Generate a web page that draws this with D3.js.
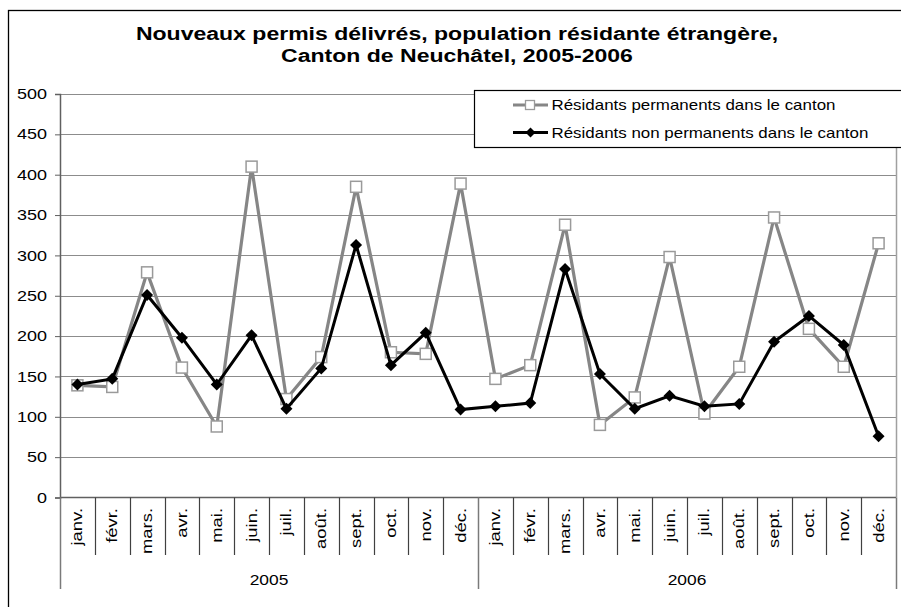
<!DOCTYPE html>
<html><head><meta charset="utf-8">
<script src="https://cdn.jsdelivr.net/npm/d3@7"></script>
<style>
body{margin:0;background:#fff;}
svg{display:block;font-family:"Liberation Sans",Arial,sans-serif;}
</style></head>
<body><svg id="c" width="901" height="607"></svg>
<script>
const titleLines = ["Nouveaux permis délivrés, population résidante étrangère,", "Canton de Neuchâtel, 2005-2006"];
const years = ["2005", "2006"];
const months = ["janv.","févr.","mars.","avr.","mai.","juin.","juil.","août.","sept.","oct.","nov.","déc."];
const seriesNames = ["Résidants permanents dans le canton", "Résidants non permanents dans le canton"];
const permanents = [139,137,279,161,88,410,122,174,385,180,178,389, 147,164,338,90,124,298,104,162,347,209,162,315];
const nonPermanents = [140,147,251,198,140,201,110,160,313,164,204,109, 113,117,283,153,110,126,113,116,193,225,189,76];
const yTicks = [0,50,100,150,200,250,300,350,400,450,500];

(function () {
const svg = d3.select("#c");
const pL = 60, pR = 896, pT = 94, pB = 497.5;

const cats = [];
years.forEach(yr => months.forEach(m => cats.push(yr + "|" + m)));

const x = d3.scaleBand().domain(cats).range([pL, pR]).padding(0);
const y = d3.scaleLinear().domain([0, 500]).range([pB, pT]);

function sText(parent, tx, ty, str, fs, sx, anchor, rot, weight) {
  return parent.append("text")
    .attr("transform", `translate(${tx},${ty})${rot ? " rotate(" + rot + ")" : ""} scale(${sx},1)`)
    .attr("text-anchor", anchor).attr("font-size", fs)
    .attr("font-weight", weight || "normal").attr("fill", "#000").text(str);
}

svg.append("rect").attr("x", 8.5).attr("y", 10.5).attr("width", 1000).attr("height", 1000)
  .attr("fill", "none").attr("stroke", "#000").attr("stroke-width", 1.3);

titleLines.forEach((t, i) => sText(svg, 457, 40 + i * 22, t, 18, 1.28, "middle", 0, "bold"));

svg.append("g").selectAll("line").data(yTicks.filter(d => d > 0)).join("line")
  .attr("x1", pL).attr("x2", pR)
  .attr("y1", d => Math.round(y(d)) + 0.5).attr("y2", d => Math.round(y(d)) + 0.5)
  .attr("stroke", "#8c8c8c").attr("stroke-width", 1);

svg.append("line").attr("x1", pR + 0.5).attr("x2", pR + 0.5).attr("y1", pT).attr("y2", pB)
  .attr("stroke", "#a0a0a0").attr("stroke-width", 1.5);

const yAxis = d3.axisLeft(y).tickValues(yTicks).tickSize(5).tickPadding(8);
const gy = svg.append("g").attr("transform", `translate(${pL},0)`).call(yAxis);
gy.select(".domain").attr("stroke", "#606060").attr("stroke-width", 1.5);
gy.selectAll(".tick line").attr("stroke", "#606060");
gy.selectAll(".tick text").attr("font-size", 14.5).attr("fill", "#000")
  .attr("font-family", "Liberation Sans, Arial, sans-serif")
  .attr("x", 0).attr("transform", "translate(-13,0) scale(1.24,1)");

svg.append("line").attr("x1", pL).attr("x2", pR).attr("y1", pB).attr("y2", pB)
  .attr("stroke", "#606060").attr("stroke-width", 1.5);

const gx = svg.append("g");
cats.forEach((c, i) => {
  const xs = x(c);
  const isYear = i % 12 === 0;
  gx.append("line").attr("x1", Math.round(xs) + 0.5).attr("x2", Math.round(xs) + 0.5)
    .attr("y1", pB).attr("y2", isYear ? 589 : 555)
    .attr("stroke", isYear ? "#7a7a7a" : "#404040").attr("stroke-width", isYear ? 1.5 : 1.2);
});
gx.append("line").attr("x1", pR + 0.5).attr("x2", pR + 0.5).attr("y1", pB).attr("y2", 589)
  .attr("stroke", "#7a7a7a").attr("stroke-width", 1.5);

cats.forEach(c => {
  const cx = x(c) + x.bandwidth() / 2;
  sText(gx, cx + 5, 508, c.split("|")[1], 14.5, 1.27, "end", -90);
});
years.forEach(yr => {
  const first = x(yr + "|" + months[0]);
  const last = x(yr + "|" + months[11]) + x.bandwidth();
  sText(gx, (first + last) / 2, 585, yr, 14.5, 1.2, "middle", 0);
});

const cxOf = (d, i) => x(cats[i]) + x.bandwidth() / 2;
const line = d3.line().x((d, i) => cxOf(d, i)).y(d => y(d));

svg.append("path").datum(permanents).attr("d", line).attr("fill", "none")
  .attr("stroke", "#868686").attr("stroke-width", 3.2).attr("stroke-linejoin", "miter");
svg.append("g").selectAll("rect").data(permanents).join("rect")
  .attr("x", (d, i) => cxOf(d, i) - 5.5).attr("y", d => y(d) - 5.5)
  .attr("width", 11).attr("height", 11)
  .attr("fill", "#fff").attr("stroke", "#9a9a9a").attr("stroke-width", 1.5);

svg.append("path").datum(nonPermanents).attr("d", line).attr("fill", "none")
  .attr("stroke", "#000").attr("stroke-width", 3);
const diamond = (cx, cy, r) => `M${cx},${cy - r}L${cx + r},${cy}L${cx},${cy + r}L${cx - r},${cy}Z`;
svg.append("g").selectAll("path").data(nonPermanents).join("path")
  .attr("d", (d, i) => diamond(cxOf(d, i), y(d), 6)).attr("fill", "#000");

const lg = svg.append("g");
lg.append("rect").attr("x", 474.5).attr("y", 90.5).attr("width", 440).attr("height", 57)
  .attr("fill", "#fff").attr("stroke", "#000").attr("stroke-width", 1.2);
const rows = [105, 132.5];
lg.append("line").attr("x1", 513).attr("x2", 548).attr("y1", rows[0]).attr("y2", rows[0])
  .attr("stroke", "#868686").attr("stroke-width", 3);
lg.append("rect").attr("x", 525.5).attr("y", rows[0] - 4.5).attr("width", 9).attr("height", 9)
  .attr("fill", "#fff").attr("stroke", "#9a9a9a").attr("stroke-width", 1.3);
lg.append("line").attr("x1", 513).attr("x2", 548).attr("y1", rows[1]).attr("y2", rows[1])
  .attr("stroke", "#000").attr("stroke-width", 3);
lg.append("path").attr("d", diamond(530.5, rows[1], 5)).attr("fill", "#000");
seriesNames.forEach((n, i) => sText(lg, 551.5, rows[i] + 5, n, 14, 1.21, "start", 0));
})();
</script></body></html>
